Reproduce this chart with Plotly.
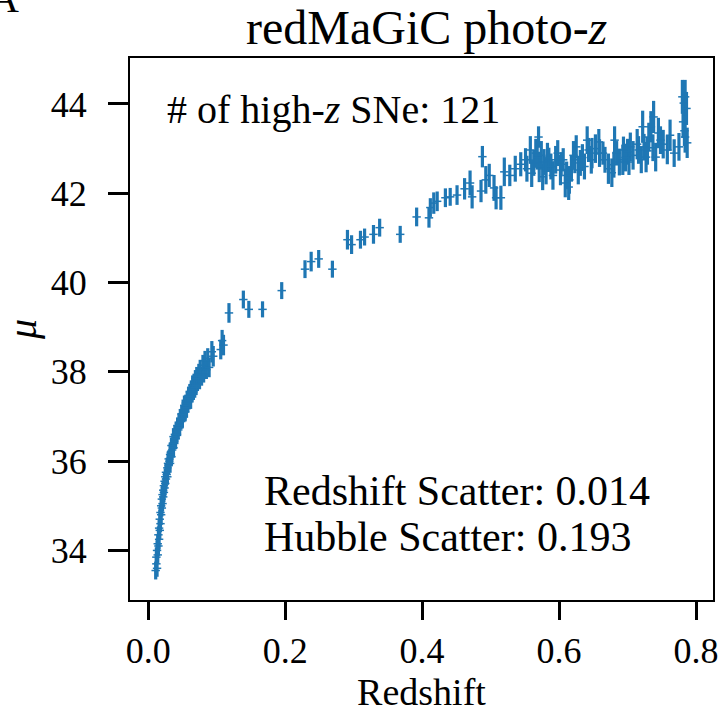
import plotly.graph_objects as go

# Low-redshift SNe (redshift, distance modulus, error)
lowz_z = [
    0.011, 0.012, 0.012, 0.013, 0.013, 0.014, 0.014, 0.015, 0.015, 0.016,
    0.016, 0.017, 0.017, 0.018, 0.018, 0.019, 0.019, 0.020, 0.020, 0.021,
    0.021, 0.022, 0.022, 0.023, 0.023, 0.024, 0.024, 0.025, 0.025, 0.026,
    0.026, 0.027, 0.028, 0.028, 0.029, 0.030, 0.030, 0.031, 0.032, 0.032,
    0.033, 0.034, 0.034, 0.035, 0.036, 0.037, 0.037, 0.038, 0.039, 0.040,
    0.041, 0.042, 0.043, 0.044, 0.045, 0.046, 0.047, 0.048, 0.049, 0.050,
    0.051, 0.052, 0.053, 0.054, 0.055, 0.056, 0.057, 0.058, 0.059, 0.060,
    0.061, 0.062, 0.063, 0.064, 0.065, 0.066, 0.067, 0.068, 0.069, 0.070,
    0.071, 0.072, 0.074, 0.075, 0.076, 0.078, 0.080, 0.081, 0.083, 0.085,
    0.087, 0.089, 0.093, 0.095, 0.106, 0.108, 0.110,
]
lowz_mu = [
    33.55, 33.70, 33.85, 33.60, 34.00, 33.90, 34.15, 34.10, 34.35, 34.25,
    34.50, 34.45, 34.70, 34.60, 34.85, 34.80, 35.00, 34.95, 35.15, 35.05,
    35.25, 35.20, 35.35, 35.30, 35.45, 35.40, 35.55, 35.50, 35.65, 35.60,
    35.75, 35.70, 35.85, 35.65, 35.95, 35.90, 36.05, 36.00, 36.15, 35.95,
    36.20, 36.10, 36.35, 36.25, 36.40, 36.30, 36.55, 36.45, 36.60, 36.50,
    36.70, 36.60, 36.80, 36.70, 36.85, 36.75, 36.95, 36.90, 37.05, 36.95,
    37.15, 37.05, 37.25, 37.10, 37.30, 37.20, 37.40, 37.30, 37.45, 37.35,
    37.55, 37.40, 37.60, 37.50, 37.70, 37.55, 37.75, 37.65, 37.85, 37.70,
    37.90, 37.75, 37.95, 37.80, 38.05, 37.90, 38.15, 37.95, 38.25, 38.05,
    38.30, 38.10, 38.45, 38.35, 38.50, 38.70, 38.60,
]
lowz_err = [
    0.20, 0.18, 0.22, 0.19, 0.23, 0.18, 0.21, 0.22, 0.19, 0.23,
    0.18, 0.21, 0.22, 0.19, 0.18, 0.23, 0.21, 0.19, 0.22, 0.18,
    0.21, 0.23, 0.19, 0.22, 0.18, 0.21, 0.19, 0.23, 0.18, 0.22,
    0.21, 0.19, 0.23, 0.18, 0.22, 0.21, 0.19, 0.18, 0.23, 0.21,
    0.22, 0.19, 0.18, 0.23, 0.21, 0.22, 0.19, 0.18, 0.21, 0.23,
    0.19, 0.22, 0.18, 0.21, 0.23, 0.19, 0.22, 0.18, 0.21, 0.19,
    0.23, 0.18, 0.22, 0.21, 0.19, 0.23, 0.18, 0.21, 0.22, 0.19,
    0.18, 0.23, 0.21, 0.19, 0.22, 0.18, 0.21, 0.23, 0.19, 0.22,
    0.21, 0.18, 0.23, 0.19, 0.22, 0.21, 0.23, 0.19, 0.22, 0.21,
    0.23, 0.22, 0.24, 0.23, 0.22, 0.24, 0.23,
]

# High-redshift DES SNe with redMaGiC photo-z
hiz_z = [
    0.118, 0.139, 0.147, 0.167, 0.195, 0.229, 0.238, 0.249, 0.269, 0.291,
    0.297, 0.310, 0.316, 0.329, 0.338, 0.368, 0.392, 0.410, 0.412, 0.417,
    0.422, 0.434, 0.441, 0.451, 0.470, 0.473, 0.488, 0.493, 0.505, 0.508,
    0.515, 0.520, 0.528, 0.551, 0.558, 0.563, 0.566, 0.570, 0.571, 0.576,
    0.578, 0.583, 0.585, 0.595, 0.598, 0.602, 0.606, 0.609, 0.614, 0.615,
    0.623, 0.625, 0.628, 0.631, 0.641, 0.643, 0.648, 0.658, 0.659, 0.664,
    0.677, 0.680, 0.681, 0.684, 0.693, 0.694, 0.700, 0.704, 0.716, 0.722,
    0.724, 0.727, 0.731, 0.734, 0.737, 0.738, 0.741, 0.745, 0.748, 0.758,
    0.775, 0.780, 0.782, 0.784, 0.784, 0.787, 0.553, 0.560, 0.568, 0.574,
    0.581, 0.588, 0.591, 0.603, 0.611, 0.618, 0.621, 0.634, 0.637, 0.647,
    0.653, 0.667, 0.672, 0.688, 0.697, 0.702, 0.708, 0.714, 0.720, 0.729,
    0.752, 0.762, 0.768, 0.781, 0.783, 0.786, 0.498, 0.486, 0.462, 0.536,
    0.544,
]
hiz_mu = [
    39.32, 39.62, 39.40, 39.40, 39.82, 40.30, 40.47, 40.53, 40.30, 40.96,
    40.85, 40.96, 41.02, 41.08, 41.23, 41.08, 41.47, 41.45, 41.68, 41.78,
    41.82, 41.90, 41.92, 41.96, 42.23, 41.92, 42.82, 42.30, 42.12, 41.90,
    41.90, 42.48, 42.40, 42.75, 42.97, 42.68, 42.90, 43.26, 42.59, 42.37,
    42.70, 42.81, 42.75, 42.75, 42.90, 42.52, 42.75, 42.23, 42.14, 42.30,
    42.75, 43.04, 42.52, 42.68, 43.19, 42.97, 42.90, 43.15, 42.90, 42.90,
    42.46, 42.64, 43.19, 42.90, 42.75, 42.97, 42.93, 43.04, 42.97, 43.49,
    43.04, 42.81, 43.26, 43.49, 43.02, 43.71, 42.81, 43.35, 43.19, 42.97,
    43.04, 44.16, 44.02, 44.16, 43.26, 43.13, 42.55, 42.45, 42.80, 42.85,
    42.50, 42.60, 42.40, 42.65, 42.40, 42.55, 42.85, 42.80, 42.60, 42.75,
    43.00, 42.75, 42.55, 42.70, 42.80, 42.70, 42.85, 43.10, 42.75, 42.95,
    43.10, 43.30, 42.90, 43.60, 43.40, 43.90, 42.40, 42.05, 42.10, 42.55,
    42.65,
]
hiz_err = [
    0.22, 0.20, 0.19, 0.18, 0.19, 0.20, 0.22, 0.20, 0.19, 0.22,
    0.21, 0.20, 0.19, 0.21, 0.20, 0.19, 0.21, 0.22, 0.21, 0.24,
    0.22, 0.21, 0.20, 0.22, 0.28, 0.26, 0.24, 0.31, 0.29, 0.26,
    0.27, 0.32, 0.24, 0.26, 0.31, 0.29, 0.32, 0.24, 0.34, 0.30,
    0.29, 0.32, 0.27, 0.31, 0.29, 0.34, 0.26, 0.32, 0.29, 0.31,
    0.30, 0.26, 0.32, 0.29, 0.31, 0.27, 0.34, 0.29, 0.31, 0.26,
    0.32, 0.29, 0.31, 0.27, 0.34, 0.30, 0.29, 0.32, 0.31, 0.36,
    0.29, 0.34, 0.32, 0.35, 0.30, 0.36, 0.32, 0.34, 0.31, 0.32,
    0.31, 0.38, 0.36, 0.38, 0.35, 0.34, 0.29, 0.31, 0.27, 0.32,
    0.30, 0.29, 0.32, 0.27, 0.31, 0.29, 0.32, 0.30, 0.29, 0.31,
    0.32, 0.29, 0.34, 0.30, 0.31, 0.29, 0.32, 0.34, 0.30, 0.31,
    0.32, 0.35, 0.31, 0.36, 0.34, 0.37, 0.26, 0.25, 0.24, 0.29,
    0.27,
]

x_ticks = [0.0, 0.2, 0.4, 0.6, 0.8]
x_ticktext = ["0.0", "0.2", "0.4", "0.6", "0.8"]
y_ticks = [34, 36, 38, 40, 42, 44]

COLOR = "#1f77b4"
FONT = "Liberation Serif"

fig = go.Figure()
for zs, mus, errs in [(lowz_z, lowz_mu, lowz_err), (hiz_z, hiz_mu, hiz_err)]:
    fig.add_trace(go.Scatter(
        x=zs, y=mus, mode="markers",
        marker=dict(symbol="line-ew", size=6, color=COLOR,
                    line=dict(color=COLOR, width=1.5)),
        error_y=dict(type="data", array=errs, visible=True,
                     color=COLOR, thickness=3.2, width=0),
        showlegend=False, hoverinfo="skip",
    ))

axis_common = dict(
    showgrid=False, zeroline=False, showline=True, mirror=True,
    linecolor="black", linewidth=2, ticks="outside",
    tickwidth=3, tickcolor="black",
    tickfont=dict(family=FONT, size=36, color="black"),
)
fig.update_xaxes(range=[-0.0265, 0.8247], tickvals=x_ticks, ticktext=x_ticktext,
                 ticklen=18,
                 title=dict(text="Redshift", font=dict(family=FONT, size=38, color="black"),
                            standoff=8),
                 **axis_common)
fig.update_yaxes(range=[32.89, 45.03], tickvals=y_ticks, ticklen=20,
                 title=dict(text="<i>μ</i>", font=dict(family=FONT, size=40, color="black"),
                            standoff=6),
                 ticklabelstandoff=14, **axis_common)

fig.update_layout(
    width=724, height=715,
    margin=dict(l=130, r=6, t=58, b=115),
    paper_bgcolor="white", plot_bgcolor="white",
    annotations=[
        dict(text="redMaGiC photo-<i>z</i>", xref="paper", yref="paper",
             x=0.5, y=1, xanchor="center", yanchor="bottom", xshift=5, yshift=2,
             showarrow=False, font=dict(family=FONT, size=48, color="black")),
        dict(text="# of high-<i>z</i> SNe: 121", xref="paper", yref="paper",
             x=0.0595, y=0.95, xanchor="left", yanchor="top",
             showarrow=False, font=dict(family=FONT, size=40, color="black")),
        dict(text="Redshift Scatter: 0.014",
             xref="paper", yref="paper", x=0.226, y=0.201, xanchor="left",
             yanchor="middle", align="left",
             showarrow=False, font=dict(family=FONT, size=42, color="black")),
        dict(text="Hubble Scatter: 0.193",
             xref="paper", yref="paper", x=0.226, y=0.116, xanchor="left",
             yanchor="middle", align="left",
             showarrow=False, font=dict(family=FONT, size=42, color="black")),
        dict(text="A", xref="paper", yref="paper", x=-0.215, y=1.0,
             xanchor="center", yanchor="middle", yshift=60,
             showarrow=False, font=dict(family=FONT, size=40, color="black")),
    ],
)

fig.write_html("out.html")
